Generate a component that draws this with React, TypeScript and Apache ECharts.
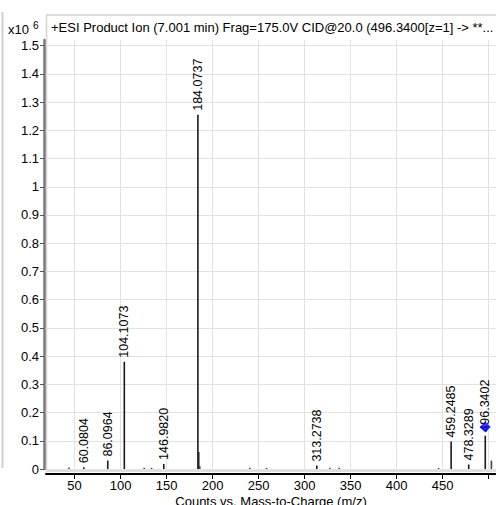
import React, { useEffect, useRef } from "react";
import * as echarts from "echarts";

// Labeled peaks (m/z, intensity in x10^6 counts)
const peakMz = [60.0804, 86.0964, 104.1073, 146.982, 184.0737, 313.2738, 459.2485, 478.3289, 496.3402];
const peakIntensity = [0.006, 0.03, 0.38, 0.018, 1.255, 0.012, 0.097, 0.016, 0.118];
const peakLabels = ["60.0804", "86.0964", "104.1073", "146.9820", "184.0737", "313.2738", "459.2485", "478.3289", "496.3402"];

// Unlabeled minor peaks
const minorMz = [44.0, 125.7, 133.7, 185.07, 186.07, 240.5, 258.7, 327.5, 337.6, 445.6, 503.0];
const minorIntensity = [0.005, 0.004, 0.004, 0.06, 0.01, 0.004, 0.004, 0.004, 0.004, 0.004, 0.03];

// Precursor marker
const precursorMz = [496.3402];
const precursorMarker = [0.149];

// Axes
const xTicks = [50, 100, 150, 200, 250, 300, 350, 400, 450, 500];
const xTickLabels = [50, 100, 150, 200, 250, 300, 350, 400, 450];
const yTicks = [0, 0.1, 0.2, 0.3, 0.4, 0.5, 0.6, 0.7, 0.8, 0.9, 1, 1.1, 1.2, 1.3, 1.4, 1.5];

const FONT = "'Liberation Sans', Arial, Helvetica, sans-serif";

export default function App() {
  const ref = useRef<HTMLDivElement>(null);
  useEffect(() => {
    if (!ref.current) return;
    const chart = echarts.init(ref.current, null, { renderer: "svg" });
    chart.setOption({
      animation: false,
      backgroundColor: "#ffffff",
      textStyle: { fontFamily: FONT },
      grid: { left: 46, right: 0, top: 40, bottom: 36, containLabel: false, outerBoundsMode: "none" },
      graphic: [
        {
          type: "rect",
          shape: { x: 46.5, y: 15, width: 452, height: 456 },
          style: { fill: "none", stroke: "#d4d4d4", lineWidth: 1.5 },
          z: 0,
          silent: true,
        },
        {
          type: "line",
          shape: { x1: 2.5, y1: 12, x2: 2.5, y2: 468 },
          style: { stroke: "#cfcfcf", lineWidth: 2 },
          silent: true,
        },
        {
          type: "text",
          x: 51,
          y: 27,
          style: {
            text: "+ESI Product Ion (7.001 min) Frag=175.0V CID@20.0 (496.3400[z=1] -> **...",
            font: "13px " + FONT,
            fill: "#000",
            verticalAlign: "middle",
          },
          silent: true,
        },
        {
          type: "text",
          x: 8,
          y: 29,
          style: { text: "x10", font: "13px " + FONT, fill: "#000", verticalAlign: "middle" },
          silent: true,
        },
        {
          type: "text",
          x: 33,
          y: 25,
          style: { text: "6", font: "10px " + FONT, fill: "#000", verticalAlign: "middle" },
          silent: true,
        },
      ],
      xAxis: {
        type: "value",
        min: 19,
        max: 508,
        offset: 5,
        name: "Counts vs. Mass-to-Charge (m/z)",
        nameLocation: "middle",
        nameGap: 21,
        nameMoveOverlap: false,
        nameTextStyle: { fontSize: 13, color: "#000", fontFamily: FONT },
        axisLine: { show: true, onZero: false, lineStyle: { color: "#000", width: 2 } },
        axisTick: { show: true, customValues: xTicks, length: 5, lineStyle: { color: "#000", width: 1 } },
        axisLabel: {
          customValues: xTickLabels,
          fontSize: 13,
          color: "#000",
          margin: 5,
          fontFamily: FONT,
        },
        splitLine: { show: true, lineStyle: { color: "#e2e2e2", width: 1 } },
      },
      yAxis: {
        type: "value",
        min: 0,
        max: 1.52,
        offset: 2,
        axisLine: { show: true, lineStyle: { color: "#7a7a7a", width: 2.5 } },
        axisTick: { show: true, customValues: yTicks, length: 4, lineStyle: { color: "#555", width: 1 } },
        axisLabel: {
          customValues: yTicks,
          fontSize: 13,
          color: "#000",
          margin: 5,
          fontFamily: FONT,
          formatter: (v: number) => String(parseFloat(Number(v).toFixed(1))),
        },
        splitLine: { show: true, lineStyle: { color: "#e2e2e2", width: 1 } },
      },
      series: [
        {
          type: "bar",
          barWidth: 1.6,
          itemStyle: { color: "#444" },
          data: minorMz.map((m, i) => [m, minorIntensity[i]]),
          z: 3,
        },
        {
          type: "bar",
          barWidth: 1.6,
          barGap: "-100%",
          itemStyle: { color: "#1a1a1a" },
          data: peakMz.map((m, i) => [m, peakIntensity[i]]),
          label: {
            show: true,
            position: "top",
            rotate: 90,
            align: "left",
            verticalAlign: "middle",
            distance: 4,
            fontSize: 12.5,
            color: "#000",
            fontFamily: FONT,
            formatter: (p: any) => peakLabels[p.dataIndex],
          },
          z: 4,
        },
        {
          type: "scatter",
          symbol: "diamond",
          symbolSize: 11,
          itemStyle: { color: "#0000ff" },
          data: precursorMz.map((m, i) => [m, precursorMarker[i]]),
          z: 10,
        },
      ],
    });
    return () => chart.dispose();
  }, []);
  return <div ref={ref} style={{ position: "fixed", left: 0, top: 0, width: 496, height: 505 }} />;
}
